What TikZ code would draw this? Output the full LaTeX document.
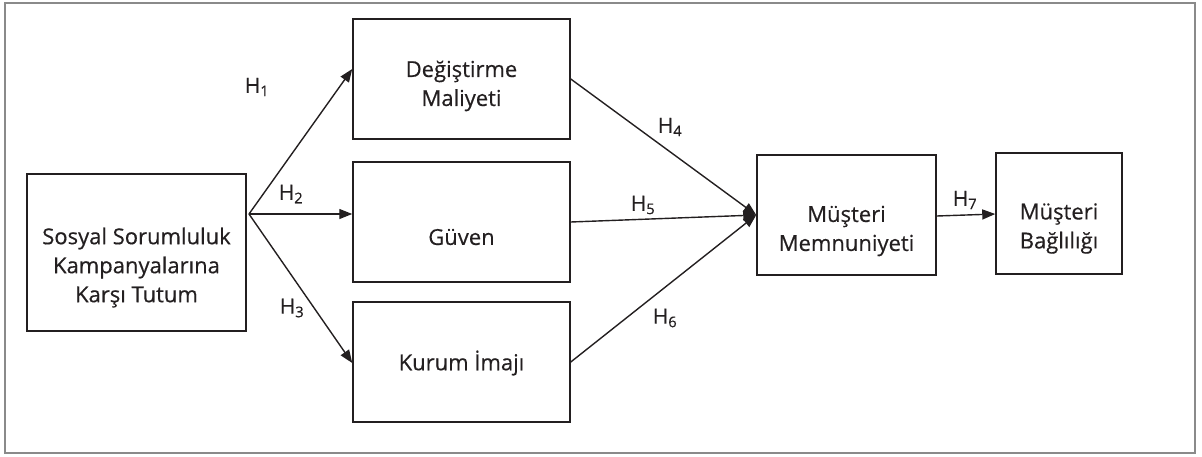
\documentclass[tikz,border=0pt]{standalone}
\usepackage{fontspec}
\setmainfont[RawFeature={embolden=0.5}]{Open Sans}
\usetikzlibrary{arrows.meta}
\definecolor{ink}{HTML}{231F20}
\definecolor{frame}{HTML}{8A8A8A}
\newcommand\hyp[1]{H\textsubscript{#1}}
\tikzset{
  box/.style={draw=ink, line width=1.5pt, inner sep=0pt},
  txt/.style={text=ink, align=center, inner sep=0pt,
    font=\fontsize{22}{29}\selectfont},
  link/.style={draw=ink, line width=1.4pt, -{Triangle[length=13pt,width=10pt]}},
  hlabel/.style={text=ink, inner sep=0pt, font=\fontsize{21}{24}\selectfont}
}
\begin{document}
\begin{tikzpicture}[x=1pt,y=-1pt]
  \useasboundingbox (0,0) rectangle (1202,456);
  \draw[frame, line width=1.5pt] (5,3) rectangle (1195,453);

  % boxes
  \node[box, minimum width=219pt, minimum height=157pt] (src) at (136.5,252.5) {};
  \node[box, minimum width=217pt, minimum height=120pt] (dm) at (461.5,79) {};
  \node[box, minimum width=217pt, minimum height=120pt] (gv) at (461.5,222) {};
  \node[box, minimum width=217pt, minimum height=120pt] (ki) at (461.5,362) {};
  \node[box, minimum width=179pt, minimum height=120pt] (mm) at (846.5,215) {};
  \node[box, minimum width=126pt, minimum height=121pt] (mb) at (1059,213.5) {};

  % box texts
  \node[txt] (srct) at ([yshift=-15pt]src.center) {Sosyal Sorumluluk\\Kampanyalarına\\Karşı Tutum};
  \node[txt] (dmt) at ([yshift=-7pt]dm.center) {Değiştirme\\Maliyeti};
  \node[txt] (gvt) at ([yshift=-15pt]gv.center) {Güven};
  \node[txt] (kit) at ([yshift=-1pt]ki.center) {Kurum İmajı};
  \node[txt] (mmt) at ([yshift=-16pt]mm.center) {Müşteri\\Memnuniyeti};
  \node[txt] (mbt) at ([yshift=-15pt]mb.center) {Müşteri\\Bağlılığı};

  % paths
  \coordinate (br) at (249,214);
  \draw[link] (br) -- (dm.west |- 0,69);
  \draw[link] (br) -- (gv.west |- br);
  \draw[link] (br) -- (ki.west |- 0,363);
  \draw[link] (dm.east |- 0,79) -- (mm.west);
  \draw[link] (gv.east) -- (mm.west);
  \draw[link] (ki.east) -- (mm.west);
  \draw[link] (mm.east |- 0,216) -- (mb.west |- 0,214);

  % hypothesis labels
  \node[hlabel] (h1) at (257,87) {\hyp{1}};
  \node[hlabel] (h2) at (291,194) {\hyp{2}};
  \node[hlabel] (h3) at (292,308) {\hyp{3}};
  \node[hlabel] (h4) at (670,127) {\hyp{4}};
  \node[hlabel] (h5) at (643,205) {\hyp{5}};
  \node[hlabel] (h6) at (665,318) {\hyp{6}};
  \node[hlabel] (h7) at (965,200) {\hyp{7}};
\end{tikzpicture}
\end{document}
